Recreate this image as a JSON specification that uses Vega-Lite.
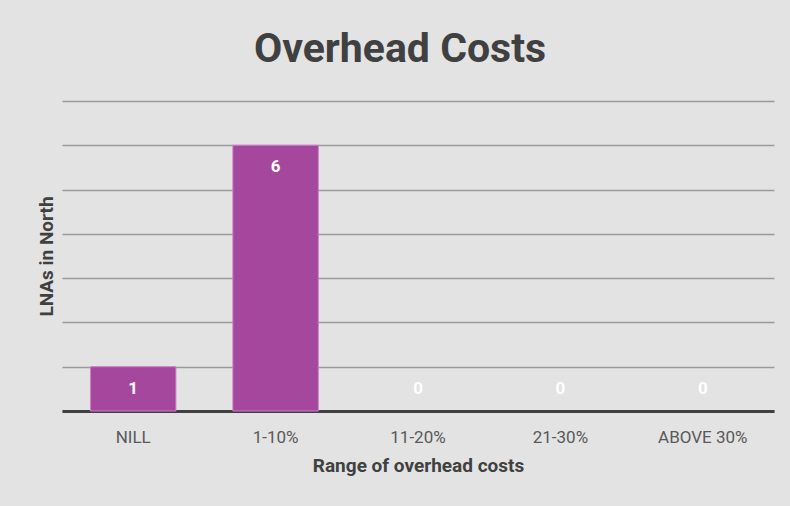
{
  "$schema": "https://vega.github.io/schema/vega-lite/v6.json",
  "width": 712,
  "height": 310,
  "autosize": "none",
  "padding": {"left": 62, "top": 101, "right": 16, "bottom": 95},
  "background": "#e3e3e3",
  "title": {
    "text": "Overhead Costs",
    "fontSize": 41,
    "fontWeight": "bold",
    "color": "#404040",
    "font": "Roboto",
    "anchor": "middle",
    "offset": 30,
    "dx": -18
  },
  "data": {
    "values": [
      {"range": "NILL", "count": 1},
      {"range": "1-10%", "count": 6},
      {"range": "11-20%", "count": 0},
      {"range": "21-30%", "count": 0},
      {"range": "ABOVE 30%", "count": 0}
    ]
  },
  "encoding": {
    "x": {
      "field": "range",
      "type": "nominal",
      "sort": null,
      "scale": {"paddingInner": 0.4, "paddingOuter": 0.2},
      "axis": {
        "title": "Range of overhead costs",
        "labelAngle": 0,
        "labelFontSize": 17,
        "labelColor": "#595959",
        "labelFont": "Roboto",
        "labelPadding": 18,
        "ticks": false,
        "domainColor": "#404040",
        "domainWidth": 3,
        "titleFontSize": 19,
        "titleFontWeight": "bold",
        "titleColor": "#404040",
        "titleFont": "Roboto",
        "titlePadding": 11
      }
    },
    "y": {
      "field": "count",
      "type": "quantitative",
      "scale": {"domain": [0, 7]},
      "axis": {
        "title": "LNAs in North",
        "labels": false,
        "ticks": false,
        "domain": false,
        "tickCount": 7,
        "gridColor": "#9a9a9a",
        "gridWidth": 1.5,
        "titleFontSize": 19,
        "titleFontWeight": "bold",
        "titleColor": "#404040",
        "titleFont": "Roboto",
        "titlePadding": 6
      }
    }
  },
  "layer": [
    {
      "transform": [{"filter": "datum.count > 0"}],
      "mark": {"type": "bar", "color": "#a5479c", "stroke": "#d27ccb", "strokeWidth": 1}
    },
    {
      "transform": [{"filter": "datum.count > 0"}],
      "mark": {"type": "text", "dy": 22, "color": "white", "fontWeight": "bold", "fontSize": 17, "font": "Roboto"},
      "encoding": {"text": {"field": "count", "type": "quantitative"}}
    },
    {
      "transform": [{"filter": "datum.count == 0"}],
      "mark": {"type": "text", "dy": -22, "color": "white", "fontWeight": "bold", "fontSize": 17, "font": "Roboto"},
      "encoding": {"text": {"field": "count", "type": "quantitative"}}
    }
  ],
  "config": {"view": {"stroke": null}}
}
